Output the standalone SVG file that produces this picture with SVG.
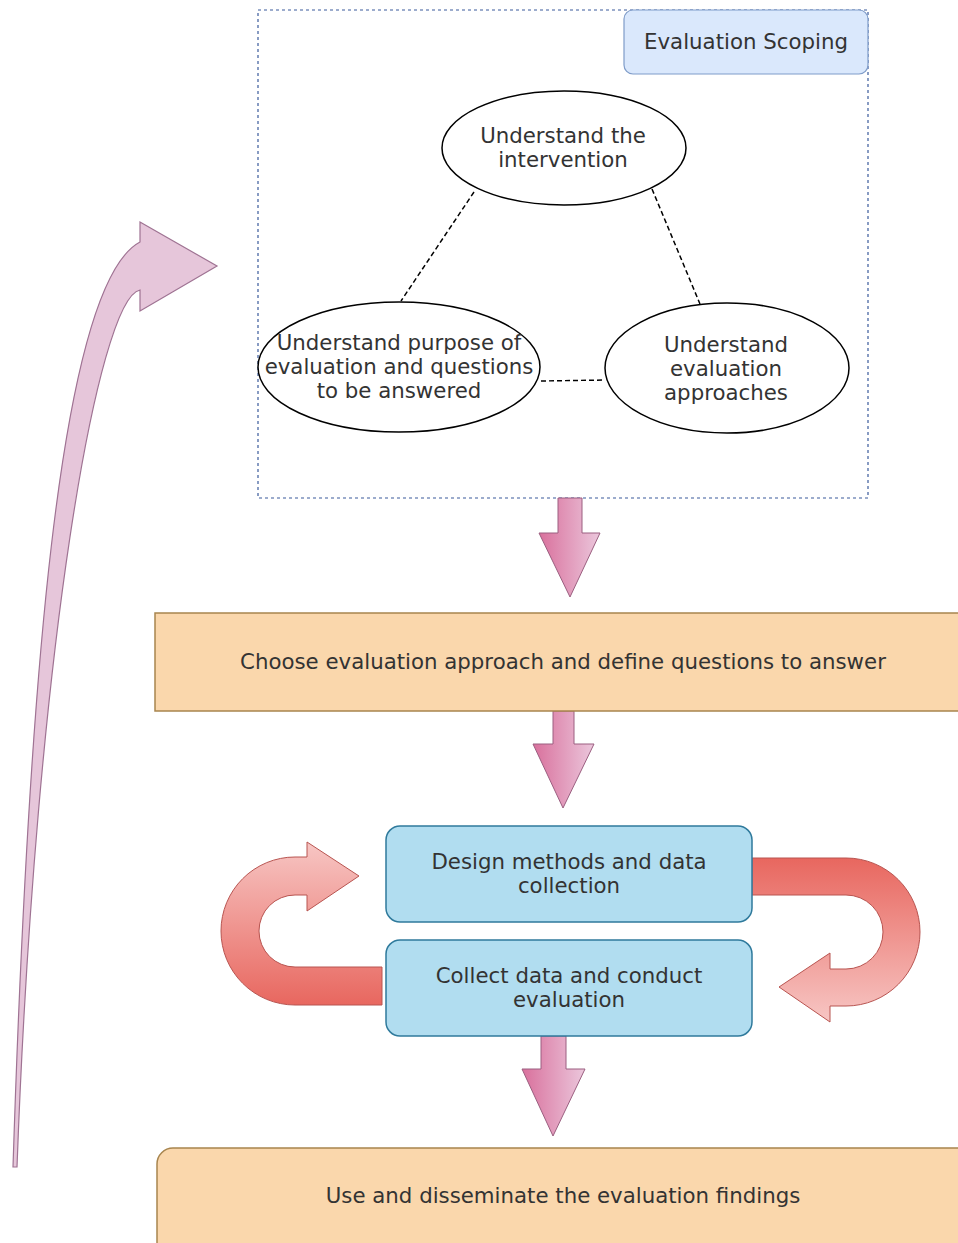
<svg xmlns="http://www.w3.org/2000/svg" width="958" height="1243" viewBox="0 0 958 1243">
  <defs>
    <linearGradient id="pinkH" x1="0" y1="0" x2="1" y2="0">
      <stop offset="0" stop-color="#d9709c"/>
      <stop offset="1" stop-color="#ebc7dc"/>
    </linearGradient>
    <linearGradient id="redDown" x1="0" y1="0" x2="0" y2="1">
      <stop offset="0" stop-color="#f7c6c4"/>
      <stop offset="1" stop-color="#e8675f"/>
    </linearGradient>
    <linearGradient id="redUp" x1="0" y1="0" x2="0" y2="1">
      <stop offset="0" stop-color="#e8675f"/>
      <stop offset="1" stop-color="#f7c6c4"/>
    </linearGradient>
    <style>
      .t { font-family: "DejaVu Sans", Verdana, sans-serif; font-size: 21.3px; fill: #333333; text-anchor: middle; }
      .ell { fill: #ffffff; stroke: #000000; stroke-width: 1.5; }
      .dash { stroke: #000000; stroke-width: 1.5; stroke-dasharray: 5 3; fill: none; }
      .orange { fill: #fad7ac; stroke: #a8854e; stroke-width: 1.5; }
      .blue { fill: #b1ddf0; stroke: #2f7a9c; stroke-width: 1.5; }
      .pinkArrow { fill: url(#pinkH); stroke: #9b5f80; stroke-width: 1; }
    </style>
  </defs>
  <rect width="958" height="1243" fill="#ffffff"/>

  <g id="scoping-container">
    <rect x="258" y="10" width="610" height="488" fill="none" stroke="#3a5a9c" stroke-width="1.2" stroke-dasharray="3 3"/>
  </g>
  <g id="node-evaluation-scoping">
    <rect x="624" y="10" width="244" height="64" rx="9" fill="#dae8fc" stroke="#7f9cc9" stroke-width="1.2"/>
    <text class="t" x="746" y="49">Evaluation Scoping</text>
  </g>

  <g id="connectors">
    <line class="dash" x1="474" y1="192" x2="401" y2="301"/>
    <line class="dash" x1="652" y1="189" x2="700" y2="304"/>
    <line class="dash" x1="541" y1="381" x2="605" y2="380"/>
    <path class="pinkArrow" d="M 558 498 L 582 498 L 582 533 L 600 533 L 570 597 L 539 533 L 558 533 Z"/>
    <path class="pinkArrow" d="M 553 711 L 574 711 L 574 744 L 594 744 L 563 808 L 533 744 L 553 744 Z"/>
    <path class="pinkArrow" d="M 541 1036 L 566 1036 L 566 1069 L 585 1069 L 553 1136 L 522 1069 L 541 1069 Z"/>
    <path d="M 382 1005 L 295 1005 A 74 74 0 0 1 295 857 L 307 857 L 307 842 L 359 876 L 307 911 L 307 895 L 295 895 A 36 36 0 0 0 295 967 L 382 967 Z" fill="url(#redDown)" stroke="#b85450" stroke-width="1"/>
    <path d="M 752 858 L 846 858 A 74 74 0 0 1 846 1006 L 830 1006 L 830 1022 L 779 987 L 830 953 L 830 969 L 846 969 A 37 37 0 0 0 846 895 L 752 895 Z" fill="url(#redUp)" stroke="#b85450" stroke-width="1"/>
    <path d="M 13 1167 C 28 700, 58 285, 140 242 L 140 222 L 217 266 L 140 311 L 140 290 C 98 298, 36 650, 17 1167 Z" fill="#e6c6da" stroke="#9f7393" stroke-width="1.2"/>
  </g>

  <g id="node-understand-intervention">
    <ellipse class="ell" cx="564" cy="148" rx="122" ry="57"/>
    <text class="t" x="563" y="143">Understand the</text>
    <text class="t" x="563" y="167">intervention</text>
  </g>
  <g id="node-understand-purpose">
    <ellipse class="ell" cx="399" cy="367" rx="141" ry="65"/>
    <text class="t" x="399" y="350">Understand purpose of</text>
    <text class="t" x="399" y="374">evaluation and questions</text>
    <text class="t" x="399" y="398">to be answered</text>
  </g>
  <g id="node-understand-approaches">
    <ellipse class="ell" cx="727" cy="368" rx="122" ry="65"/>
    <text class="t" x="726" y="352">Understand</text>
    <text class="t" x="726" y="376">evaluation</text>
    <text class="t" x="726" y="400">approaches</text>
  </g>

  <g id="node-choose-approach">
    <rect class="orange" x="155" y="613" width="812" height="98"/>
    <text class="t" x="563" y="669">Choose evaluation approach and define questions to answer</text>
  </g>
  <g id="node-design-methods">
    <rect class="blue" x="386" y="826" width="366" height="96" rx="14"/>
    <text class="t" x="569" y="869">Design methods and data</text>
    <text class="t" x="569" y="893">collection</text>
  </g>
  <g id="node-collect-data">
    <rect class="blue" x="386" y="940" width="366" height="96" rx="14"/>
    <text class="t" x="569" y="983">Collect data and conduct</text>
    <text class="t" x="569" y="1007">evaluation</text>
  </g>
  <g id="node-use-findings">
    <rect class="orange" x="157" y="1148" width="820" height="110" rx="16"/>
    <text class="t" x="563" y="1203">Use and disseminate the evaluation findings</text>
  </g>
</svg>
